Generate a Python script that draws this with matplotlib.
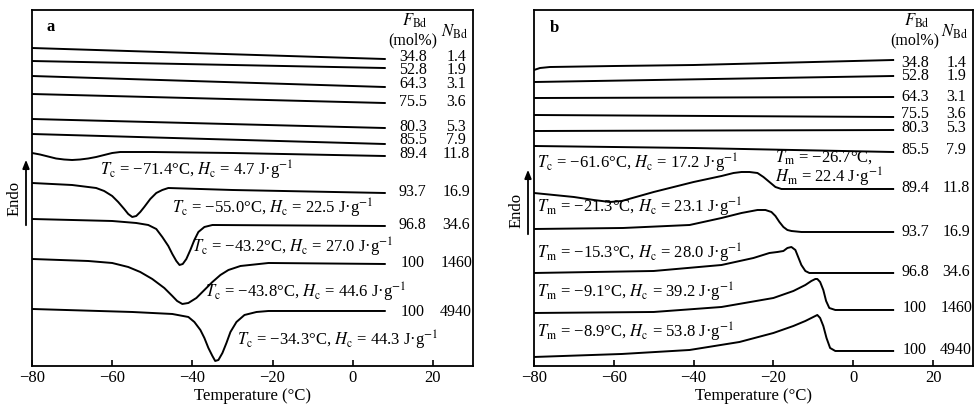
import numpy as np
import matplotlib
matplotlib.use("Agg")
import matplotlib.pyplot as plt

plt.rcParams["font.family"] = ["Liberation Serif", "DejaVu Serif"]
plt.rcParams["mathtext.fontset"] = "stix"
plt.rcParams["font.size"] = 11

# ── Data: DSC traces, heat flow in arbitrary units (offset stacked) ──
F_bd = ["34.8", "52.8", "64.3", "75.5", "80.3", "85.5", "89.4", "93.7", "96.8", "100", "100"]
N_bd = ["1.4", "1.9", "3.1", "3.6", "5.3", "7.9", "11.8", "16.9", "34.6", "1460", "4940"]

# panel a: cooling scans
a_T = [
    [-80, 8],
    [-80, 8],
    [-80, 8],
    [-80, 8],
    [-80, 8],
    [-80, 8],
    [-80, -78, -76, -74, -72, -70, -68, -66, -64, -62, -60, -58, -50, -30, 8],
    [-80, -70, -64, -62, -60, -58.5, -57, -56, -55, -54, -53, -52, -50.5, -49, -47.5, -46, -30, 8],
    [-80, -60, -54, -51, -49, -47.5, -46, -45, -44, -43.2, -42.4, -41.5, -40.5, -39.5, -38.5, -37, -35, 8],
    [-80, -66, -60, -56, -53, -50, -47, -45, -43.8, -42.5, -41, -39, -37, -35, -33, -31, -28, -21, 8],
    [-80, -55, -45, -41, -39.5, -38, -37, -36, -35, -34.3, -33.5, -32.5, -31.5, -30.5, -29, -27, -24, -21, 8],
]
a_Q = [
    [352, 341],
    [339, 332],
    [324, 313],
    [306, 297],
    [281, 272],
    [266, 256],
    [247, 245.5, 243.5, 241.5, 240.5, 240, 240.5, 241.5, 243, 245, 247, 248, 248, 247, 244],
    [217, 215, 212, 209, 204, 198, 191, 186, 183, 184, 188, 193, 201, 207, 210, 212, 210, 207],
    [181, 179, 177, 175, 171, 163, 154, 146, 139, 135, 136, 141, 150, 160, 168, 173, 175, 174],
    [141, 139, 137, 133, 128, 121, 112, 104, 99, 96, 97, 102, 110, 118, 125, 130, 134, 137, 136],
    [91, 88, 86, 83, 78, 70, 62, 52, 44, 39, 40, 47, 57, 68, 78, 85, 88, 89, 89],
]
a_notes = ["−71.4", "−55.0", "−43.2", "−43.8", "−34.3"]
a_H = ["4.7", "22.5", "27.0", "44.6", "44.3"]

# panel b: heating scans
b_T = [
    [-80, -78.5, -76, -60, -40, -20, 0, 10],
    [-80, 10],
    [-80, 10],
    [-80, 10],
    [-80, 10],
    [-80, -40, 10],
    [-80, -75, -70, -65, -61, -58, -50, -40, -33, -30, -28, -26, -24, -22.5, -21, -19.5, -18, 0, 10],
    [-80, -57.7, -41, -33, -28, -24, -22, -20.5, -19.5, -18.5, -17.5, -16.5, -15.5, -13, 10],
    [-80, -50, -33, -25, -21, -19, -17.5, -16.5, -15.5, -14.5, -13.8, -13, -12, -11, -8, 10],
    [-80, -50, -33, -20, -15, -12, -10.5, -9.5, -9, -8.3, -7.5, -6.8, -6, -4.5, 10],
    [-80, -58, -41, -28.5, -20, -15, -12, -10.5, -9.5, -9, -8.3, -7.5, -6.7, -5.8, -4.5, 10],
]
b_Q = [
    [330, 332, 333, 334, 335, 337, 339, 340],
    [318, 324],
    [302, 303],
    [285, 283],
    [269, 270],
    [254, 252, 248],
    [207, 205, 203, 200, 198, 199, 208, 218, 224, 227, 228, 228, 227, 223, 218, 213, 211, 211, 211],
    [171, 172, 175, 182, 187, 190, 190, 188, 184, 178, 173, 170, 169, 168, 168],
    [127, 129, 135, 142, 147, 148, 149, 152, 153, 150, 143, 135, 129, 127, 127, 127],
    [87, 88, 93, 102, 109, 115, 119, 121, 121, 118, 110, 99, 92, 90, 90],
    [43, 46, 50, 58, 67, 74, 79, 82, 84, 85, 82, 74, 62, 52, 49, 49],
]
b_notes = [("c", "−61.6", "c", "17.2"), ("m", "−21.3", "c", "23.1"),
           ("m", "−15.3", "c", "28.0"), ("m", "−9.1", "c", "39.2"),
           ("m", "−8.9", "c", "53.8")]

fig = plt.figure(figsize=(9.76, 4.12), dpi=100)
ax_a = fig.add_axes([0.0328, 0.1117, 0.4518, 0.864])
ax_b = fig.add_axes([0.5471, 0.1117, 0.4498, 0.864])

for ax in (ax_a, ax_b):
    ax.set_xlim(-80, 30)
    ax.set_ylim(34, 390)
    ax.set_yticks([])
    ax.set_xticks([-80, -60, -40, -20, 0, 20])
    ax.set_xticklabels(["−80", "−60", "−40", "−20", "0", "20"])
    ax.tick_params(axis="x", direction="in", length=4, width=1.2, labelsize=12, pad=3)
    ax.set_xlabel("Temperature (°C)", fontsize=12, labelpad=1)
    for s in ax.spines.values():
        s.set_linewidth(1.3)

for T, Q in zip(a_T, a_Q):
    ax_a.plot(T, Q, color="black", lw=1.4)
for T, Q in zip(b_T, b_Q):
    ax_b.plot(T, Q, color="black", lw=1.4)

# right-hand composition labels; tightly packed rows share one text block
a_rows = [340, 330, 319, 298, 273, 258, 248, 208, 175, 137, 88]
b_rows = [337, 324, 303, 286, 272, 250, 212, 168, 128, 92, 50]
for ax, rows, xf, xn in ((ax_a, a_rows, 15, 25.8), (ax_b, b_rows, 15.5, 25.8)):
    groups = [[0]]
    for i in range(1, len(rows)):
        if rows[groups[-1][-1]] - rows[i] < 16:
            groups[-1].append(i)
        else:
            groups.append([i])
    for g in groups:
        y = np.mean([rows[i] for i in g])
        ax.text(xf, y, "\n".join(F_bd[i] for i in g), ha="center", va="center",
                fontsize=11.5, linespacing=0.78, multialignment="center")
        ax.text(xn, y, "\n".join(N_bd[i] for i in g), ha="center", va="center",
                fontsize=11.5, linespacing=0.78, multialignment="center")
    ax.text(xf + 0.5, 379, r"$F_{\mathrm{Bd}}$", ha="center", va="center", fontsize=12)
    ax.text(xf, 360, "(mol%)", ha="center", va="center", fontsize=11.5)
    ax.text(xn - 0.5, 368, r"$N_{\mathrm{Bd}}$", ha="center", va="center", fontsize=12)

# panel a annotations (left x in degC, y in data units)
a_pos = [(-63.0, 230), (-45.0, 192), (-40.0, 153), (-36.8, 108), (-28.8, 60)]
for (x, y), t, h in zip(a_pos, a_notes, a_H):
    ax_a.text(x, y, rf"$T_\mathrm{{c}}$ = {t}°C, $H_\mathrm{{c}}$ = {h} J·g$^{{-1}}$",
              ha="left", va="center", fontsize=12)

b_pos = [237, 193, 147, 108, 68]
for y, (ts, t, hs, h) in zip(b_pos, b_notes):
    ax_b.text(-79.3, y, rf"$T_\mathrm{{{ts}}}$ = {t}°C, $H_\mathrm{{{hs}}}$ = {h} J·g$^{{-1}}$",
              ha="left", va="center", fontsize=12)
ax_b.text(-19.5, 231.5, "$T_\\mathrm{m}$ = −26.7°C,\n$H_\\mathrm{m}$ = 22.4 J·g$^{-1}$",
          ha="left", va="center", fontsize=12, linespacing=1.0)

ax_a.text(-76.3, 373, "a", fontsize=12, fontweight="bold", va="center")
ax_b.text(-76.0, 372, "b", fontsize=12, fontweight="bold", va="center")

# Endo arrows
for xa, y0, y1, xt, yt in ((26, 228, 157, 15, 198), (528, 237, 167, 517, 210)):
    fig.patches.append(matplotlib.patches.FancyArrowPatch(
        (xa / 976, 1 - y0 / 412), (xa / 976, 1 - y1 / 412),
        transform=fig.transFigure, arrowstyle="-|>,head_length=5,head_width=2",
        color="black", lw=1.3))
    fig.text(xt / 976, 1 - yt / 412, "Endo", rotation=90, ha="center", va="center", fontsize=12)

fig.savefig("out.png", dpi=100)
